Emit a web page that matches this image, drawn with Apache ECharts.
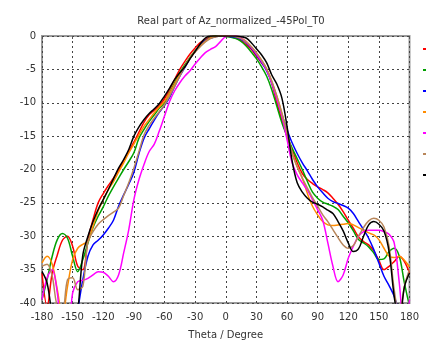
<!DOCTYPE html>
<html>
<head>
<meta charset="utf-8">
<script src="https://cdn.jsdelivr.net/npm/echarts@6/dist/echarts.min.js"></script>
<style>html,body{margin:0;padding:0;background:#fff;}#c{width:426px;height:347px;}</style>
</head>
<body>
<div id="c"></div>
<script>
const theta = [-180,-175,-170,-165,-160,-155,-150,-145,-140,-135,-130,-125,-120,-115,-110,-105,-100,-95,-90,-85,-80,-75,-70,-65,-60,-55,-50,-45,-40,-35,-30,-25,-20,-15,-10,-5,0,5,10,15,20,25,30,35,40,45,50,55,60,65,70,75,80,85,90,95,100,105,110,115,120,125,130,135,140,145,150,155,160,165,170,175,180];

const red = [-35.5,-40.5,-35.5,-32.8,-30.6,-30,-31.5,-34.5,-35,-30.5,-27.5,-25,-23.6,-22.4,-21.3,-20.1,-18.7,-17.3,-15.9,-14.4,-12.9,-11.8,-11.1,-10.4,-9.4,-8,-6.5,-5,-3.8,-2.7,-1.8,-1,-0.5,-0.1,0,0,0,-0.1,-0.3,-0.7,-1.3,-2,-3,-4,-5,-7,-10,-12.6,-15,-17,-19,-20.6,-21.5,-22.1,-22.6,-23,-23.5,-24.3,-25.2,-26.3,-27.6,-28.8,-30.1,-30.8,-31.3,-32.2,-33.6,-35,-34.5,-33.8,-33,-33.8,-35.5];
const green = [-39.5,-36.5,-33,-30.5,-29.6,-30.3,-33,-35.3,-33.5,-31,-28.7,-27,-25.6,-24,-22.6,-21.3,-20,-18.8,-17.5,-15.3,-14,-12.8,-11.8,-10.8,-10,-8.5,-7,-5.5,-4.3,-3.2,-2.2,-1.4,-0.7,-0.2,0,0,-0.1,-0.2,-0.4,-0.8,-1.5,-2.4,-3.4,-4.6,-6,-8,-10.5,-13,-15,-16.8,-18.4,-20,-21.8,-23.4,-24.3,-24.9,-25.2,-25.5,-26,-27,-28,-29.2,-30.5,-31,-31.6,-32.5,-33.5,-33.4,-32.3,-31.8,-33,-37,-40.5];
const blue = [-46,-47,-48,-48,-48,-47,-45,-41,-36.5,-33,-31.3,-30.6,-29.8,-28.8,-27.6,-25.5,-23.8,-22.2,-20.4,-17.6,-15.3,-13.9,-12.6,-11.4,-10.4,-9.2,-7.5,-6,-4.7,-3.4,-2.3,-1.4,-0.7,-0.3,-0.1,0,0,-0.1,-0.2,-0.5,-1,-1.8,-2.8,-3.9,-5.2,-7,-9.3,-11.8,-14,-16,-17.6,-19,-20.2,-21.5,-22.6,-23.5,-24.3,-24.8,-25.1,-25.4,-25.8,-26.6,-27.8,-29,-30.3,-32,-34,-36,-37.4,-39,-41.5,-44,-45];
const orange = [-34,-33,-34.2,-38,-42,-37.5,-33.5,-31.8,-31.2,-30.8,-28.5,-26.2,-24.5,-23,-21.8,-20.4,-19,-17.5,-16.2,-14.8,-13.5,-12.5,-11.5,-10.6,-9.8,-8.6,-7.2,-5.7,-4.5,-3.3,-2.3,-1.5,-0.8,-0.3,-0.1,0,0,0,0,-0.3,-0.8,-1.6,-2.5,-3.6,-4.9,-6.8,-9,-11.6,-14.5,-17.5,-19.6,-21.3,-23.6,-25.5,-26.8,-27.8,-28.3,-28.4,-28.3,-28.2,-28.1,-28.3,-28.7,-29.1,-29.5,-29.8,-30.5,-31.8,-33,-33.2,-33,-33.6,-34.6];
const magenta = [-39.5,-36.2,-35,-38.5,-45,-45,-38.5,-36.8,-36.6,-36.3,-35.8,-35.3,-35.4,-36,-36.8,-35.8,-32.5,-29,-24.5,-21.5,-19.2,-17.3,-16.2,-14.2,-12,-9.8,-8.2,-7,-6,-5.2,-4.2,-3.3,-2.5,-2,-1.6,-0.8,-0.1,0,0,-0.3,-0.9,-1.7,-2.7,-3.8,-5.1,-7,-9.4,-12,-15.5,-19,-20.8,-22,-23.1,-24.5,-26,-27.6,-31,-34.5,-36.8,-35.8,-33.3,-31.5,-30,-29.3,-29.1,-29.1,-29.1,-29.3,-29.7,-31,-37,-44,-39.5];
const brown = [-34.5,-34.2,-36,-40.5,-41,-36.5,-36.2,-38,-37.5,-30.8,-29.3,-28.2,-27.5,-26.9,-26.4,-25.8,-23.9,-22,-19.8,-17.3,-14.8,-13.4,-12.3,-11.3,-10.3,-9,-7.5,-6,-4.6,-3.4,-2.4,-1.6,-0.9,-0.4,-0.1,0,0,0,-0.1,-0.4,-0.9,-1.6,-2.5,-3.6,-4.9,-6.7,-9,-11.6,-14.4,-17.5,-19.6,-21.3,-22.8,-24.2,-25.5,-26.8,-27.8,-29,-30.2,-31.3,-31.8,-31.4,-30,-28.7,-27.7,-27.3,-27.6,-28.6,-31.5,-38,-42,-37.5,-35];
const black = [-35.3,-37,-42,-46,-48,-48,-47,-41.5,-32.8,-30,-27.8,-26,-24.5,-23,-21.4,-19.8,-18.5,-17,-15,-13.6,-12.5,-11.6,-10.9,-10.1,-9,-7.8,-6.5,-5.5,-4.6,-3.4,-2.3,-1.2,-0.3,0,0,0,0,0,0,-0.1,-0.3,-1,-1.9,-2.8,-4,-5.8,-7.2,-9.3,-13.5,-18.7,-22,-23.4,-24.3,-24.9,-25.2,-25.6,-26.1,-26.6,-27.8,-29.2,-31,-32.3,-31.9,-30,-28.3,-27.8,-28.2,-29.2,-32.3,-39,-43,-37.6,-35.5];

const xTicks = [-180,-150,-120,-90,-60,-30,0,30,60,90,120,150,180];
const yTicks = [0,-5,-10,-15,-20,-25,-30,-35,-40];

const names = ['Series 1','Series 2','Series 3','Series 4','Series 5','Series 6','Series 7'];
const colors = ['#ff0000','#00a000','#0000ff','#ff8c00','#ff00ff','#b8865a','#000000'];
const sets = [red, green, blue, orange, magenta, brown, black];

const chart = echarts.init(document.getElementById('c'));
const series = sets.map((vals, i) => ({
  name: names[i],
  type: 'line',
  data: theta.map((t, j) => [t, vals[j]]),
  smooth: 0.35,
  showSymbol: false,
  clip: true,
  lineStyle: { color: colors[i], width: 1.5 },
  itemStyle: { color: colors[i] }
}));

chart.setOption({
  animation: false,
  backgroundColor: '#ffffff',
  title: {
    text: 'Real part of Az_normalized_-45Pol_T0',
    left: 226, textAlign: 'center', top: 11,
    textStyle: { fontFamily: 'DejaVu Sans', fontSize: 10, fontWeight: 'normal', color: '#333' }
  },
  legend: {
    orient: 'vertical', left: 418, top: 43,
    itemWidth: 10, itemHeight: 2, itemGap: 19,
    icon: 'rect',
    formatter: () => '',
    data: names
  },
  grid: {
    left: 42, right: 16.5, top: 36, bottom: 44,
    show: true, borderColor: '#9a9a9a', borderWidth: 2, backgroundColor: '#fff'
  },
  xAxis: {
    type: 'value', min: -180, max: 180, interval: 30,
    name: 'Theta / Degree', nameLocation: 'middle', nameGap: 27,
    nameTextStyle: { fontFamily: 'DejaVu Sans', fontSize: 10, color: '#333' },
    axisLine: { show: false },
    axisTick: { show: true, length: 3, lineStyle: { color: '#555' } },
    axisLabel: { fontFamily: 'DejaVu Sans', fontSize: 10, color: '#333', margin: 9,
      formatter: v => xTicks.includes(v) ? String(v) : '' },
    splitLine: { show: true, lineStyle: { color: '#444', type: [2, 3], width: 1 } }
  },
  yAxis: {
    type: 'value', min: -40, max: 0, interval: 5,
    axisLine: { show: false },
    axisTick: { show: false },
    axisLabel: { fontFamily: 'DejaVu Sans', fontSize: 10, color: '#333', margin: 6,
      formatter: v => yTicks.includes(v) ? String(v) : '' },
    splitLine: { show: true, lineStyle: { color: '#444', type: [2, 3], width: 1 } }
  },
  series: series
});
</script>
</body>
</html>
